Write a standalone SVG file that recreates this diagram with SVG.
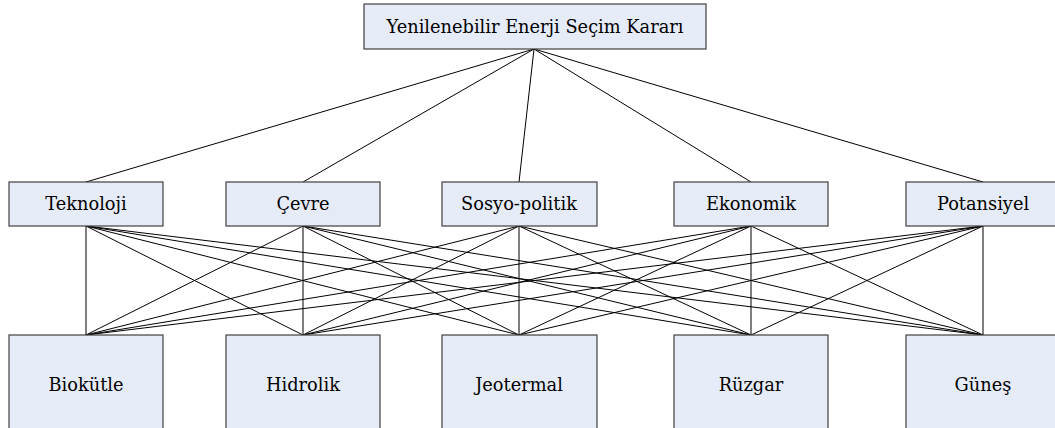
<svg xmlns="http://www.w3.org/2000/svg" width="1055" height="428" viewBox="0 0 1055 428">
<style>
.box{fill:#e6ecf7;stroke:#404040;stroke-width:1.2}
.t{font-family:'DejaVu Serif',serif;font-size:17.8px;fill:#000;text-anchor:middle}
.c line{stroke:#000;stroke-width:1}
</style>
<rect width="1055" height="428" fill="#fff"/>
<g class="c" id="connectors">
<line x1="534" y1="49" x2="86" y2="182"/>
<line x1="534" y1="49" x2="303" y2="182"/>
<line x1="534" y1="49" x2="519" y2="182"/>
<line x1="534" y1="49" x2="751" y2="182"/>
<line x1="534" y1="49" x2="983" y2="182"/>
<line x1="86" y1="226" x2="86" y2="335"/>
<line x1="86" y1="226" x2="303" y2="335"/>
<line x1="86" y1="226" x2="519" y2="335"/>
<line x1="86" y1="226" x2="751" y2="335"/>
<line x1="86" y1="226" x2="983" y2="335"/>
<line x1="303" y1="226" x2="86" y2="335"/>
<line x1="303" y1="226" x2="303" y2="335"/>
<line x1="303" y1="226" x2="519" y2="335"/>
<line x1="303" y1="226" x2="751" y2="335"/>
<line x1="303" y1="226" x2="983" y2="335"/>
<line x1="519" y1="226" x2="86" y2="335"/>
<line x1="519" y1="226" x2="303" y2="335"/>
<line x1="519" y1="226" x2="519" y2="335"/>
<line x1="519" y1="226" x2="751" y2="335"/>
<line x1="519" y1="226" x2="983" y2="335"/>
<line x1="751" y1="226" x2="86" y2="335"/>
<line x1="751" y1="226" x2="303" y2="335"/>
<line x1="751" y1="226" x2="519" y2="335"/>
<line x1="751" y1="226" x2="751" y2="335"/>
<line x1="751" y1="226" x2="983" y2="335"/>
<line x1="983" y1="226" x2="86" y2="335"/>
<line x1="983" y1="226" x2="303" y2="335"/>
<line x1="983" y1="226" x2="519" y2="335"/>
<line x1="983" y1="226" x2="751" y2="335"/>
<line x1="983" y1="226" x2="983" y2="335"/>
</g>
<g id="goal"><rect class="box" x="364" y="4" width="342" height="45"/><text class="t" x="535" y="33">Yenilenebilir Enerji Seçim Kararı</text></g>
<g id="teknoloji"><rect class="box" x="9" y="182" width="154" height="44"/><text class="t" x="86" y="210">Teknoloji</text></g>
<g id="cevre"><rect class="box" x="226" y="182" width="154" height="44"/><text class="t" x="303" y="210">Çevre</text></g>
<g id="sosyopolitik"><rect class="box" x="442" y="182" width="155" height="44"/><text class="t" x="519" y="210">Sosyo-politik</text></g>
<g id="ekonomik"><rect class="box" x="674" y="182" width="154" height="44"/><text class="t" x="751" y="210">Ekonomik</text></g>
<g id="potansiyel"><rect class="box" x="906" y="182" width="154" height="44"/><text class="t" x="983" y="210">Potansiyel</text></g>
<g id="biokutle"><rect class="box" x="9" y="335" width="154" height="100"/><text class="t" x="86" y="391">Biokütle</text></g>
<g id="hidrolik"><rect class="box" x="226" y="335" width="154" height="100"/><text class="t" x="303" y="391">Hidrolik</text></g>
<g id="jeotermal"><rect class="box" x="442" y="335" width="155" height="100"/><text class="t" x="519" y="391">Jeotermal</text></g>
<g id="ruzgar"><rect class="box" x="674" y="335" width="154" height="100"/><text class="t" x="751" y="391">Rüzgar</text></g>
<g id="gunes"><rect class="box" x="906" y="335" width="154" height="100"/><text class="t" x="983" y="391">Güneş</text></g>
</svg>
